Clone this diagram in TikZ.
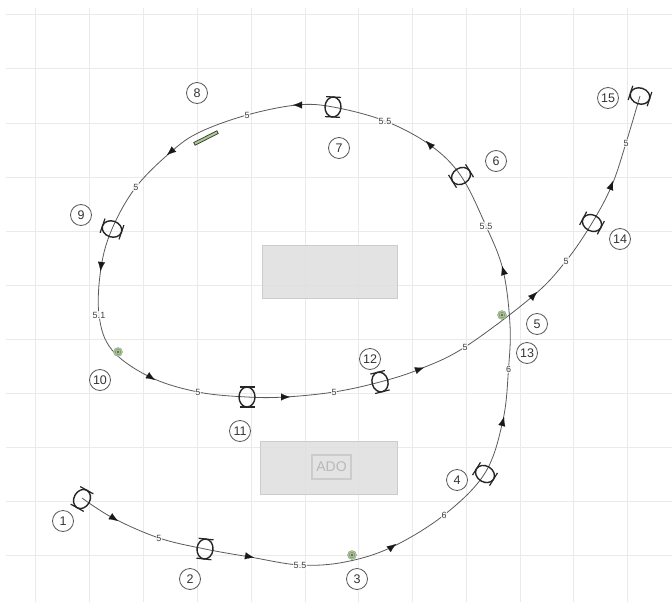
\documentclass[tikz,border=0pt]{standalone}
\usepackage{fontspec}
\setmainfont{Liberation Sans}
\usetikzlibrary{arrows.meta}
\definecolor{gridc}{HTML}{EAEAEA}
\definecolor{bldg}{HTML}{DFDFDF}
\definecolor{bldge}{HTML}{CCCCCC}
\definecolor{pathc}{HTML}{5A5A5A}
\definecolor{greenc}{HTML}{A9CC8F}
\tikzset{
  x=1pt,y=-1pt,
  gridline/.style={gridc,line width=1pt},
  building/.style={draw=bldge,fill=bldg,fill opacity=.85,line width=.9pt,minimum width=#1,minimum height=53,inner sep=0,rectangle},
  adobox/.style={draw=bldge,line width=1.2pt,text=black!28,font=\fontsize{14}{14}\selectfont,inner sep=3pt,minimum width=39,minimum height=24},
  numlabel/.style={circle,draw=black!65,line width=.8pt,fill=white,minimum size=21,inner sep=0,text=black!80,font=\fontsize{12.5}{13}\selectfont},
  distlabel/.style={fill=white,fill opacity=.8,text opacity=1,inner sep=.4pt,text=black!75,font=\fontsize{9}{10}\selectfont},
  route/.style={pathc,line width=.8pt},
  tip/.style={-{Latex[length=9pt,width=7pt,black!90]},line width=.1pt,black!90},
  sensor/.style={circle,fill=greenc,draw=black!40,line width=.4pt,minimum size=9,inner sep=0},
  actuator/.pic={
    \draw[black!85,line width=1.4pt] (0,0) ellipse [x radius=8,y radius=10];
    \draw[black!85,line width=1.2pt] (-7.5,-10) -- (7.5,-10) (-7.5,10) -- (7.5,10);
  }
}
\begin{document}
\begin{tikzpicture}
\useasboundingbox (0,0) rectangle (672,602);
\fill[white] (0,0) rectangle (672,602);
% grid
\foreach \gx in {35,89,143,197,251,305,358,412,466,520,573,627}
  \draw[gridline] (\gx,8) -- (\gx,602);
\foreach \gy in {15,69,123,177,231,285,339,393,447,501,555}
  \draw[gridline] (6,\gy) -- (672,\gy);
% buildings
\node[building=135] (b1) at (329.5,272) {};
\node[building=137] (b2) at (329,468) {};
\node[adobox] (ado) at (331.5,467) {ADO};
% route waypoints
\foreach \n/\p in {
 a/{82,498},b/{113,518},c/{159,538},d/{205,549},e/{250,557},f/{300,565},g/{345,562},h/{392,547},
 i/{444,515},j/{485,473},k/{503,420},l/{508.5,369},m/{510,325},n/{503,270},o/{486,226},p/{461,176},
 q/{430,145},r/{385,121},s/{333,107},t/{297,105},u/{247,115},u2/{200,132},v/{172,151},w/{136,187},x/{112,229},
 y/{101,268},z/{99,315},aa/{112,350},ab/{150,377},ac/{198,392},ad/{247,397},ae/{285,397},af/{334,392},
 ag/{380,382},ah/{420,369},ai/{465,347},aj/{533,296},ak/{566,261},al/{592,223},am/{612,185},an/{626,143},ao/{640,96}}
  {\coordinate (\n) at (\p);}
\draw[route] plot[smooth,tension=.6] coordinates {(a)(b)(c)(d)(e)(f)(g)(h)(i)(j)(k)(l)(m)(n)(o)(p)(q)(r)(s)(t)(u)(u2)(v)(w)(x)(y)(z)(aa)(ab)(ac)(ad)(ae)(af)(ag)(ah)(ai)(aj)(ak)(al)(am)(an)(ao)};
% arrowheads
\foreach \ax/\ay/\bx/\by in {110/516/118/521, 246/556/254/557.5, 389/549/396/544, 502/425/504/417, 504/273/502/266,
  433/148/426/141, 301/105/293/105, 174/149/167/155, 101.5/262/100.5/271, 147/375/155/380, 281/397/290/397,
  417/370/424/367.5, 530/299/537/292, 610/189/613/181}
  \draw[tip] (\ax,\ay) -- (\bx,\by);
% distance labels
\node[distlabel] (d1) at (c) {5};
\node[distlabel] (d2) at (f) {5.5};
\node[distlabel] (d3) at (i) {6};
\node[distlabel] (d4) at (l) {6};
\node[distlabel] (d5) at (o) {5.5};
\node[distlabel] (d6) at (r) {5.5};
\node[distlabel] (d7) at (u) {5};
\node[distlabel] (d8) at (w) {5};
\node[distlabel] (d9) at (z) {5.1};
\node[distlabel] (d10) at (ac) {5};
\node[distlabel] (d11) at (af) {5};
\node[distlabel] (d12) at (ai) {5};
\node[distlabel] (d13) at (ak) {5};
\node[distlabel] (d14) at (an) {5};
% actuators
\foreach \cx/\cy/\ang in {82/499/-29, 205/549/-6, 485/474/58, 461/176/-58, 333/107/-3, 112/229/71,
  247/397/0, 380/382/14, 592/223/62, 640/96/72}
  \pic[rotate=\ang] at (\cx,\cy) {actuator};
% sensors
\foreach \cx/\cy/\nm in {352/555/s1,502/315/s2,118/352/s3}{
  \node[sensor] (\nm) at (\cx,\cy) {};
  \fill[black!60] (\nm) circle (1.3);
  \draw[black!55,line width=.3pt] (\nm) circle (2.8);
}
% beacon
\draw[black!75,fill=greenc,line width=.8pt,rotate around={27:(206,138)}] (193,136.5) rectangle (219,139.5);
% number labels
\foreach \t/\cx/\cy in {1/63/521, 2/190/579, 3/357/579, 4/457/480, 5/537/324, 6/496/161, 7/339/148, 8/197/93,
  9/81/215, 10/100/380, 11/240/431, 12/370/359, 13/527/353, 14/620/239, 15/608/98}
  \node[numlabel] (n\t) at (\cx,\cy) {\t};
\end{tikzpicture}
\end{document}
